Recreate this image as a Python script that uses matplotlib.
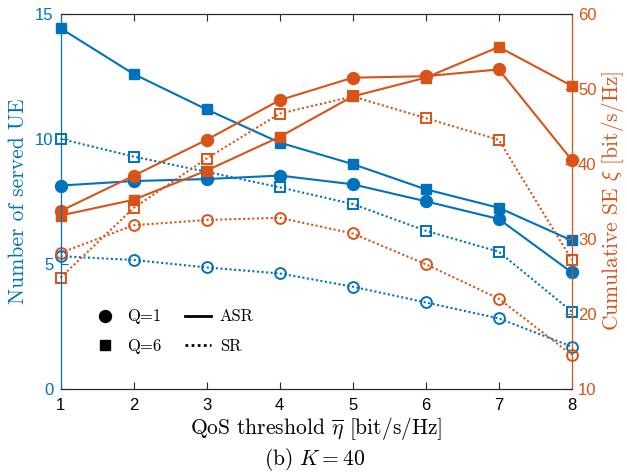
import matplotlib
matplotlib.use("Agg")
import matplotlib.pyplot as plt
from matplotlib.lines import Line2D

plt.rcParams['mathtext.fontset'] = 'cm'

BLUE = '#0072BD'
ORANGE = '#D95319'

qos = [1, 2, 3, 4, 5, 6, 7, 8]

# number of served UE (left axis)
ue_q1_asr = [8.13, 8.31, 8.39, 8.53, 8.18, 7.50, 6.79, 4.65]
ue_q6_asr = [14.43, 12.60, 11.18, 9.85, 8.99, 7.98, 7.24, 5.93]
ue_q1_sr = [5.30, 5.15, 4.85, 4.61, 4.08, 3.45, 2.81, 1.68]
ue_q6_sr = [10.0, 9.29, 8.68, 8.06, 7.39, 6.32, 5.48, 3.08]

# cumulative SE (right axis)
se_q1_asr = [33.7, 38.4, 43.2, 48.5, 51.5, 51.7, 52.6, 40.5]
se_q6_asr = [33.1, 35.2, 39.1, 43.6, 49.0, 51.5, 55.6, 50.4]
se_q1_sr = [28.1, 31.8, 32.5, 32.8, 30.7, 26.6, 22.0, 14.5]
se_q6_sr = [24.8, 34.1, 40.7, 46.7, 49.0, 46.1, 43.2, 27.2]

DOT = (0, (1, 1.2))
LW = 1.5

fig = plt.figure(figsize=(6.27, 4.75), dpi=100)
ax = fig.add_axes([0.0965, 0.182, 0.8155, 0.7885])
ax2 = ax.twinx()

# blue - served UE
ax.plot(qos, ue_q6_asr, '-', color=BLUE, lw=LW, marker='s', ms=7.4, mfc=BLUE, clip_on=False)
ax.plot(qos, ue_q1_asr, '-', color=BLUE, lw=LW, marker='o', ms=8.6, mfc=BLUE, clip_on=False)
ax.plot(qos, ue_q6_sr, linestyle=DOT, color=BLUE, lw=LW, marker='s', ms=6.6, mfc='none', mew=1.4, clip_on=False)
ax.plot(qos, ue_q1_sr, linestyle=DOT, color=BLUE, lw=LW, marker='o', ms=7.8, mfc='none', mew=1.4, clip_on=False)

# orange - cumulative SE
ax2.plot(qos, se_q1_asr, '-', color=ORANGE, lw=LW, marker='o', ms=8.6, mfc=ORANGE, clip_on=False)
ax2.plot(qos, se_q6_asr, '-', color=ORANGE, lw=LW, marker='s', ms=7.4, mfc=ORANGE, clip_on=False)
ax2.plot(qos, se_q6_sr, linestyle=DOT, color=ORANGE, lw=LW, marker='s', ms=6.6, mfc='none', mew=1.4, clip_on=False)
ax2.plot(qos, se_q1_sr, linestyle=DOT, color=ORANGE, lw=LW, marker='o', ms=7.8, mfc='none', mew=1.4, clip_on=False)

ax.set_xlim(1, 8)
ax.set_ylim(0, 15)
ax2.set_ylim(10, 60)
ax.set_xticks(qos)
ax.set_yticks([0, 5, 10, 15])
ax2.set_yticks([10, 20, 30, 40, 50, 60])

tick_font = {'family': 'Liberation Sans', 'size': 12}
for lab in ax.get_xticklabels():
    lab.set(**tick_font)
for lab in ax.get_yticklabels():
    lab.set(**tick_font, color=BLUE)
for lab in ax2.get_yticklabels():
    lab.set(**tick_font, color=ORANGE)

ax.tick_params(axis='x', direction='in', top=True, length=5, color='#262626', pad=7)
ax.tick_params(axis='y', direction='in', length=5, color=BLUE, pad=5)
ax2.tick_params(axis='y', direction='in', length=5, color=ORANGE, pad=4.5)

for a in (ax, ax2):
    a.spines['left'].set_color(BLUE)
    a.spines['right'].set_color(ORANGE)
    a.spines['top'].set_color('#262626')
    a.spines['bottom'].set_color('#262626')
    for s in a.spines.values():
        s.set_linewidth(0.8)

label_font = dict(family='cmr10', size=15.5)
ax.set_xlabel(r'QoS threshold $\overline{\eta}$ [bit/s/Hz]', labelpad=1, **label_font)
ax.set_ylabel('Number of served UE', color=BLUE, labelpad=5, **label_font)
ax2.set_ylabel(r'Cumulative SE $\xi$ [bit/s/Hz]', color=ORANGE, labelpad=2, **label_font)

fig.text(0.502, 0.032, r'(b) $K=40$', ha='center', va='center', family='cmr10', size=15.5)

handles = [
    Line2D([], [], ls='none', marker='o', color='black', ms=8.6),
    Line2D([], [], ls='none', marker='s', color='black', ms=7.2),
    Line2D([], [], ls='-', color='black', lw=2),
    Line2D([], [], ls=DOT, color='black', lw=2),
]
labels = ['Q=1', 'Q=6', 'ASR', 'SR']
leg = ax.legend(handles, labels, ncol=2, frameon=False, loc='upper left',
                bbox_to_anchor=(0.0616, 0.212), borderaxespad=0, borderpad=0,
                prop={'family': 'cmr10', 'size': 12},
                handlelength=1.55, columnspacing=1.4, handletextpad=0.55, labelspacing=0.85)

fig.savefig('out.png', dpi=100)
